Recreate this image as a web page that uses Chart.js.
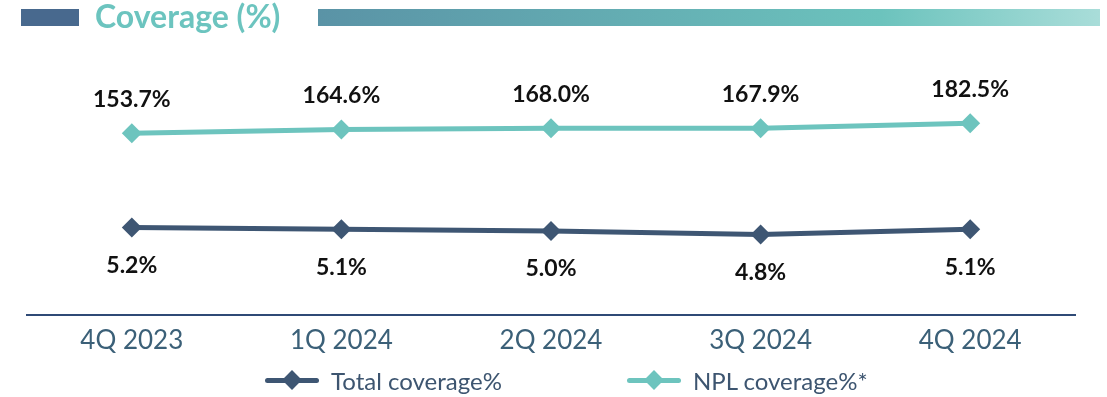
<!DOCTYPE html>
<html>
<head>
<meta charset="utf-8">
<script src="https://cdn.jsdelivr.net/npm/chart.js@4.4.1/dist/chart.umd.min.js"></script>
<style>
  html, body { margin: 0; padding: 0; background: #fff; }
  #wrap { position: relative; width: 1107px; height: 397px; overflow: hidden; font-family: Lato, sans-serif; }
  #chart { position: absolute; left: 0; top: 0; }
  .bar-left { position: absolute; left: 21px; top: 9px; width: 58px; height: 17px; background: #48698e; }
  .bar-right { position: absolute; left: 318px; top: 9px; width: 782px; height: 17px;
    background: linear-gradient(90deg, #5a93a6 0%, #6cc3bd 72%, #a9ddd9 100%); }
  .title { position: absolute; left: 95px; top: -4px; font-size: 32px; font-weight: 700; color: #6cc4bf; line-height: 40px; }
  .legend { position: absolute; top: 366px; height: 28px; display: flex; align-items: center; font-size: 24px; color: #3d5570; }
  .legend .mark { position: relative; width: 54px; height: 20px; margin-right: 12px; }
  .legend .mark .ln { position: absolute; left: 0; right: 0; top: 8px; height: 5px; border-radius: 3px; }
  .legend .mark .dm { position: absolute; left: 20px; top: 3px; width: 14px; height: 14px; transform: rotate(45deg); }
</style>
</head>
<body>
<div id="wrap">
  <canvas id="chart" width="1107" height="397"></canvas>
  <div class="bar-left"></div>
  <div class="title">Coverage (%)</div>
  <div class="bar-right"></div>
  <div id="legend"></div>
</div>
<script>
const quarters = ["4Q 2023", "1Q 2024", "2Q 2024", "3Q 2024", "4Q 2024"];
const totalCoverage = [5.2, 5.1, 5.0, 4.8, 5.1];
const nplCoverage = [153.7, 164.6, 168.0, 167.9, 182.5];

const NAVY = "#3e5673";
const TEAL = "#6dc4be";

// value labels above / below each point
const valueLabels = {
  id: "valueLabels",
  afterDatasetsDraw(chart) {
    const ctx = chart.ctx;
    ctx.save();
    ctx.font = "bold 23px Lato, sans-serif";
    ctx.fillStyle = "#111111";
    ctx.textAlign = "center";
    ctx.textBaseline = "middle";
    chart.data.datasets.forEach((ds, i) => {
      const meta = chart.getDatasetMeta(i);
      meta.data.forEach((pt, j) => {
        ctx.fillText(ds.data[j].toFixed(1) + "%", pt.x, pt.y + ds.labelOffset);
      });
    });
    ctx.restore();
  }
};

const chart = new Chart(document.getElementById("chart"), {
  type: "line",
  data: {
    labels: quarters,
    datasets: [
      {
        label: "Total coverage%",
        data: totalCoverage,
        yAxisID: "yTotal",
        borderColor: NAVY,
        backgroundColor: NAVY,
        borderWidth: 5,
        pointStyle: "rectRot",
        pointRadius: 10,
        pointBorderWidth: 0,
        labelOffset: 38
      },
      {
        label: "NPL coverage%*",
        data: nplCoverage,
        yAxisID: "yNpl",
        borderColor: TEAL,
        backgroundColor: TEAL,
        borderWidth: 5,
        pointStyle: "rectRot",
        pointRadius: 10,
        pointBorderWidth: 0,
        labelOffset: -34
      }
    ]
  },
  options: {
    responsive: false,
    animation: false,
    layout: { padding: { left: 27, right: 32, top: 60, bottom: 31 } },
    scales: {
      x: {
        offset: true,
        grid: { display: false, drawTicks: false },
        border: { display: true, color: "#2f4a76", width: 2 },
        ticks: { color: "#3b6078", padding: 10, font: { family: "Lato", size: 26 } }
      },
      yTotal: { display: false, min: 0.2, max: 14.8 },
      yNpl: { display: false, min: -370, max: 365 }
    },
    plugins: {
      legend: { display: false },
      tooltip: { enabled: false }
    }
  },
  plugins: [valueLabels]
});

// legend built from the datasets
const legendEl = document.getElementById("legend");
const legendLeft = [265, 627];
chart.data.datasets.forEach((ds, i) => {
  const item = document.createElement("div");
  item.className = "legend";
  item.style.left = legendLeft[i] + "px";
  item.innerHTML = '<div class="mark"><div class="ln" style="background:' + ds.borderColor +
    '"></div><div class="dm" style="background:' + ds.borderColor + '"></div></div><span>' + ds.label + '</span>';
  legendEl.appendChild(item);
});
</script>
</body>
</html>
